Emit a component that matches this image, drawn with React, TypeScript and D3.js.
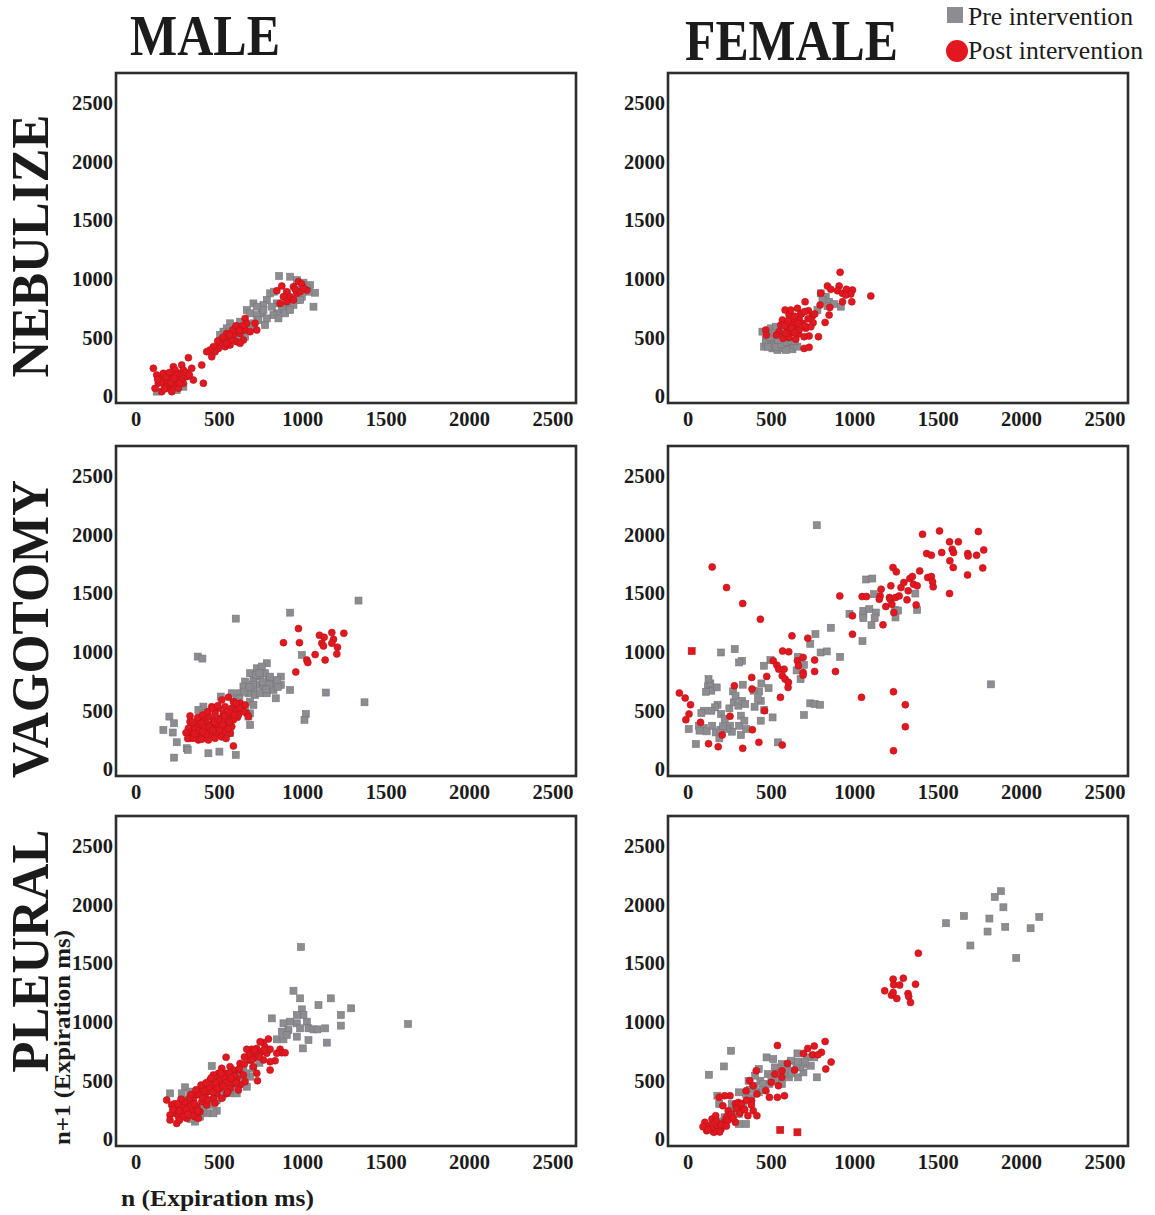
import React from "react";
import * as d3 from "d3";

// ---------- data (ms, [n, n+1]) ----------
const ticks = [0, 500, 1000, 1500, 2000, 2500];
const colTitles = ["MALE", "FEMALE"];
const rowTitles = ["NEBULIZE", "VAGOTOMY", "PLEURAL"];
const seriesNames = ["Pre intervention", "Post intervention"];

const maleNebulizePre: [number, number][] = [
  [858,1024],[924,1018],[964,989],[1004,967],[1044,947],[1074,881],[1064,762],[1034,890],[994,847],[964,819],
  [944,776],[904,762],[874,733],[844,705],[824,691],[804,876],[828,890],[784,819],[764,776],[754,705],
  [724,691],[704,790],[664,733],[734,648],[704,620],[684,591],[654,620],[624,634],[604,591],[564,620],
  [544,577],[524,549],[504,520],[514,477],[534,506],[564,549],[584,563],[604,520],[644,549],[674,563],
  [774,605],[784,662],[854,662],[894,705],[924,733],[964,904],[1024,918],[984,819],[904,876],[844,790],
  [814,762],[684,705],[724,762],[764,733],[614,492],[654,506],[504,435],[164,165],[244,51],[284,79],
  [124,37],[204,136]
];
const maleNebulizePost: [number, number][] = [
  [874,938],[904,890],[944,933],[974,975],[994,955],[964,876],[924,847],[884,847],[864,790],[904,804],
  [844,898],[1024,904],[984,890],[944,819],[1004,918],[954,910],
  [654,662],[714,620],[724,563],[654,563],[624,534],[644,477],[604,463],[564,492],[544,534],[524,477],
  [584,520],[564,435],[534,421],[504,449],[494,406],[464,421],[474,378],[444,392],[424,378],[454,335],
  [614,591],[594,577],[664,620],[624,449],[574,477],[544,449],[684,549],
  [580,560],[600,600],[560,520],[520,500],[490,470],[640,600],[620,560],
  [104,236],[154,150],[224,250],[274,264],[314,327],[334,236],[394,264],[404,108],[344,136],[304,165],
  [264,193],[244,150],[204,179],[184,122],[134,108],[114,65],[154,37],[194,65],[224,93],[284,108],
  [254,65],[174,79],[124,179],[234,221],[284,221],[214,37],[164,193],
  [150,120],[180,160],[210,110],[240,180],[270,140],[300,200],[170,60],[200,200],[230,150],[260,110],
  [130,140],[320,180]
];

const femaleNebulizePre: [number, number][] = [
  [446,549],[466,477],[456,421],[486,449],[506,406],[536,392],[566,406],[596,421],[626,398],[516,477],
  [546,449],[496,577],[526,591],[576,463],[606,449],[476,506],[556,506],[636,435],[506,529],[586,392],
  [656,421],[796,876],[826,847],[846,804],[876,785],[916,762],[836,768],[776,733],[806,819],
  [470,450],[500,430],[530,420],[560,440],[590,460],[620,470],[490,500],[520,540],[560,560],[600,500],
  [640,470],[480,420],[540,480],[580,520]
];
const femaleNebulizePost: [number, number][] = [
  [912,1055],[836,938],[856,910],[906,938],[896,898],[926,876],[950,910],[986,904],[976,870],[946,861],
  [926,804],[982,804],[1096,853],[796,876],[792,776],[850,756],[846,691],[822,628],[702,804],[656,748],
  [722,728],[746,682],[750,625],[582,733],[606,691],[626,648],[646,591],[666,662],[686,620],[706,577],
  [736,591],[726,512],[782,506],[696,506],[662,529],[626,549],[596,577],[566,648],[556,605],[546,549],
  [570,492],[606,500],[646,483],[626,605],[676,705],[616,733],[696,406],[726,415],[466,563],[470,520],
  [530,520],[586,534],[666,563],
  [600,640],[640,680],[680,700],[720,660],[700,600],[660,620],[620,580],[580,600],[640,540],[700,720],
  [760,700]
];

const maleVagotomyPre: [number, number][] = [
  [1334,1437],[924,1334],[598,1283],[370,959],[398,942],[994,973],[1138,652],[1370,569],[1018,470],[1010,419],
  [924,674],[868,788],[868,717],[838,603],[784,902],[724,859],[774,817],[744,788],[684,817],[654,746],
  [704,760],[734,717],[794,760],[824,731],[764,703],[704,674],[674,646],[644,703],[620,646],[574,646],
  [604,603],[714,632],[684,575],[654,518],[684,475],[704,547],[674,447],[684,376],[508,618],[404,532],
  [374,504],[404,475],[200,447],[228,390],[164,333],[220,311],[244,228],[304,177],[310,163],[434,134],
  [500,148],[598,120],[228,97],[564,419],[594,475],[544,362],[744,646],[784,646],[824,674],[804,788],
  [754,874],[844,760],[624,532],[564,305],[524,276],
  [650,660],[700,720],[760,740],[800,720],[720,800],[680,700],[740,820],[620,600],[590,560],[780,680],
  [850,700]
];
const maleVagotomyPost: [number, number][] = [
  [974,1198],[884,1078],[980,1078],[1100,1141],[1128,1124],[1174,1164],[1246,1158],[1184,1107],[1114,1073],[1124,1050],
  [1174,1073],[1208,1039],[1204,982],[1074,976],[1024,930],[1030,908],[1134,930],[958,828],
  [554,612],[514,589],[584,575],[624,561],[454,532],[494,518],[534,532],[574,518],[604,504],[654,546],
  [664,475],[674,447],[608,441],[564,461],[524,475],[474,475],[434,447],[404,419],[324,453],[364,404],
  [340,362],[384,362],[424,390],[464,419],[504,433],[544,404],[584,419],[574,362],[534,362],[494,362],
  [454,347],[414,333],[374,319],[334,305],[324,262],[364,276],[404,291],[444,291],[484,305],[524,319],
  [564,305],[374,248],[344,262],[584,197],[474,262],[434,248],[394,254],[614,461],[644,490],[484,390],
  [444,376],[354,339],[394,390],[514,276],[554,347],[314,347],[324,404],
  [350,300],[380,330],[410,350],[440,360],[470,400],[500,420],[530,450],[560,480],[590,460],[620,520],
  [340,400],[370,440],[400,460],[430,490],[460,520],[490,540],[300,310],[310,260],[420,300],[500,330],
  [540,260],[400,320],[460,330],[520,380],[560,400],[600,560]
];

const femaleVagotomyPre: [number, number][] = [
  [772,2080],[1816,722],[1068,1617],[1105,1625],[1115,1492],[968,1324],[1051,1315],[1051,1287],[1051,1349],[1087,1364],
  [1126,1335],[1119,1287],[1100,1227],[1046,1091],[1242,1355],[1244,1293],[1259,1352],[1363,1497],[1374,1358],[856,1205],
  [764,1151],[733,1068],[795,994],[832,1003],[912,957],[658,957],[695,889],[675,767],[651,841],[494,929],
  [455,881],[483,690],[440,730],[427,662],[436,582],[399,531],[457,503],[507,440],[436,412],[328,719],
  [280,1023],[324,923],[306,909],[198,994],[733,560],[759,554],[792,548],[695,460],[119,705],[140,668],
  [134,730],[108,659],[177,548],[162,526],[140,497],[95,497],[65,369],[95,349],[69,327],[112,321],
  [145,369],[166,312],[198,469],[220,426],[248,517],[252,369],[263,318],[270,662],[274,568],[285,625],
  [302,540],[317,455],[324,582],[306,369],[317,290],[338,412],[349,341],[343,554],[231,341],[194,335],
  [188,261],[47,213],[4,341],[539,227],[393,668],[419,597],[172,696],[123,767],[80,477],[209,364]
];
const femaleVagotomyPost: [number, number][] = [
  [-52,648],[-17,605],[15,548],[6,469],[-13,420],[75,398],[145,1724],[231,1548],[328,1412],[434,1278],
  [278,710],[252,449],[205,290],[123,216],[181,190],[328,176],[386,335],[384,682],[382,781],[425,227],
  [459,497],[472,790],[511,923],[533,886],[544,852],[554,611],[567,1006],[604,1000],[576,852],[565,795],
  [582,767],[600,696],[602,739],[623,1136],[565,205],[656,923],[662,881],[690,952],[690,824],[690,801],
  [718,1116],[759,929],[759,832],[884,832],[910,1477],[986,1307],[986,1150],[1040,611],[1044,1471],[1070,1471],
  [1152,1477],[1158,1534],[1147,1449],[1169,1230],[1186,1386],[1208,1463],[1216,1563],[1212,1449],[1222,1406],[1229,1719],
  [1234,1335],[1244,1463],[1249,1682],[1266,1477],[1277,1548],[1294,1591],[1313,1443],[1320,1520],[1330,1625],[1345,1642],
  [1352,1577],[1374,1563],[1368,1400],[1389,1690],[1406,2003],[1431,1838],[1437,1634],[1459,1824],[1459,1642],[1470,1554],
  [1466,1597],[1508,2031],[1521,1847],[1568,1938],[1570,1776],[1568,1497],[1584,1875],[1590,1719],[1592,1847],[1621,1938],
  [1677,1838],[1680,1818],[1676,1656],[1730,1824],[1741,2026],[1767,1716],[1773,1869],[1232,659],[1303,548],[1303,361],
  [1232,156]
];
const femaleVagotomyPostSquares: [number, number][] = [[22,1006]];

const malePleuralPre: [number, number][] = [
  [944,1265],[984,1200],[1168,1200],[1094,1143],[814,1029],[994,1106],[1004,1058],[964,1058],[924,1001],[884,987],
  [914,930],[874,916],[964,987],[984,944],[1024,1001],[1034,944],[1064,935],[1088,935],[1134,944],[964,873],
  [1034,844],[1000,773],[1144,822],[1228,1058],[1228,967],[1290,1115],[844,850],[884,850],[904,887],[454,623],
  [294,441],[204,389],[354,148],[484,241],[484,332],[564,389],[664,446],[684,532],[614,546],[574,475],
  [534,418],[514,361],[444,332],[404,276],[354,247],[304,332],[274,389],[644,588],[684,674],[724,702],
  [604,389],[464,219],[424,219],[384,190],[324,404],[254,247],[544,503],[594,446],[1631,981],[989,1638],
  [640,520],[700,600],[600,470],[560,420],[520,380],[480,330],[440,290],[400,240],[360,200],[330,170],
  [740,650],[660,560]
];
const malePleuralPost: [number, number][] = [
  [794,853],[764,822],[744,830],[774,782],[724,773],[694,765],[664,765],[754,745],[784,731],[804,765],
  [864,765],[874,736],[894,736],[724,716],[694,716],[684,674],[764,674],[834,668],[804,588],[704,617],
  [724,560],[728,497],[540,697],[624,645],[564,617],[584,588],[614,588],[644,546],[514,603],[534,560],
  [494,560],[464,546],[484,517],[554,517],[604,517],[654,489],[624,461],[584,475],[514,489],[444,503],
  [414,461],[464,446],[504,432],[564,432],[614,418],[544,389],[484,389],[434,404],[384,418],[364,375],
  [414,361],[464,347],[514,347],[394,318],[344,332],[314,304],[364,276],[424,290],[474,304],[284,276],
  [244,261],[184,332],[214,290],[334,233],[284,219],[234,219],[204,204],[254,190],[304,176],[354,190],
  [204,162],[244,133],[374,176],[324,276],[384,233],[804,660],[844,731],
  [230,300],[260,240],[290,320],[320,350],[350,300],[380,380],[410,410],[440,440],[470,470],[500,500],
  [530,520],[560,560],[590,540],[620,600],[650,640],[330,380],[360,420],[390,460],[420,480],[450,520],
  [480,480],[510,560],[540,480],[570,520],[600,480],[270,340],[300,250],[250,300],[220,250],[280,190],
  [400,350],[430,330],[460,400],[490,430],[520,450],[550,400],[340,200],[370,240],[260,160],[310,210],
  [680,720],[710,760],[740,700],[770,760],[650,700],[700,680]
];

const femalePleuralPre: [number, number][] = [
  [1876,2114],[1839,2065],[1891,1977],[1547,1841],[1654,1903],[1807,1881],[1902,1810],[2106,1895],[2054,1798],[1796,1770],
  [1693,1651],[1968,1545],[125,548],[258,753],[215,619],[772,526],[656,730],[714,696],[736,625],[692,639],
  [617,668],[563,639],[520,611],[478,554],[434,497],[391,440],[424,398],[471,696],[542,554],[606,526],
  [660,526],[692,568],[424,597],[363,497],[305,398],[348,384],[262,298],[305,128],[348,128],[262,241],
  [176,369],[187,298],[155,71],[219,185],[531,497],[488,469],[402,540],[596,597],[511,682],[671,611],
  [757,696],[563,469],[305,213],
  [400,450],[450,470],[500,520],[550,560],[600,580],[650,620],[700,660],[560,600],[450,420],[380,350],
  [330,300],[280,240],[240,190],[200,150],[370,420],[620,560],[660,660]
];
const femalePleuralPost: [number, number][] = [
  [1381,1585],[1179,1264],[1230,1364],[1291,1372],[1364,1321],[1233,1315],[1269,1313],[1220,1227],[1252,1199],[1319,1241],
  [1323,1216],[1334,1165],[1230,1250],[822,832],[858,656],[826,597],[757,793],[800,739],[718,773],[746,719],
  [692,730],[779,719],[536,798],[596,645],[639,588],[563,582],[520,554],[499,483],[563,526],[542,455],
  [488,355],[536,355],[578,369],[467,412],[409,582],[370,497],[391,455],[348,412],[391,241],[359,199],
  [316,241],[284,298],[252,369],[219,369],[187,355],[209,284],[241,241],[301,312],[327,256],[262,185],
  [215,142],[176,114],[144,170],[101,142],[112,71],[155,57],[198,85],[133,114],[90,105],[230,185],
  [284,142],[381,327],[413,199],[166,199],[413,384],
  [140,90],[170,150],[200,120],[240,160],[260,210],[290,260],[320,300],[350,330],[120,80],[190,60],
  [230,110],[270,180],[310,220],[340,250],[380,290]
];
const femalePleuralPostSquares: [number, number][] = [[553,77],[656,57]];

// ---------- layout ----------
const W = 1155, H = 1215;
const PW = 460, PH = 330;
const colX = [116, 668];
const rowY = [73, 446, 816];
const GRAY = "#8d8d91";
const GRAY_STROKE = "#77777b";
const RED = "#e3171f";
const RED_STROKE = "#b3141a";
const INK = "#1b1b1b";
const FONT = "'Liberation Serif', 'Times New Roman', serif";

const panels = [
  { c: 0, r: 0, pre: maleNebulizePre, post: maleNebulizePost, sq: [] as [number, number][] },
  { c: 1, r: 0, pre: femaleNebulizePre, post: femaleNebulizePost, sq: [] as [number, number][] },
  { c: 0, r: 1, pre: maleVagotomyPre, post: maleVagotomyPost, sq: [] as [number, number][] },
  { c: 1, r: 1, pre: femaleVagotomyPre, post: femaleVagotomyPost, sq: femaleVagotomyPostSquares },
  { c: 0, r: 2, pre: malePleuralPre, post: malePleuralPost, sq: [] as [number, number][] },
  { c: 1, r: 2, pre: femalePleuralPre, post: femalePleuralPost, sq: femalePleuralPostSquares },
];

const x = d3.scaleLinear().domain([-120, 2638]).range([0, PW]);
const y = d3.scaleLinear().domain([-60, 2756]).range([PH, 0]);

function Panel({ p }: { p: typeof panels[number] }) {
  const tx = colX[p.c];
  const ty = rowY[p.r];
  const s = 7;
  return (
    <g transform={`translate(${tx},${ty})`}>
      {p.pre.map((d, i) => (
        <rect key={"g" + i} x={x(d[0]) - s / 2} y={y(d[1]) - s / 2} width={s} height={s}
          fill={GRAY} stroke={GRAY_STROKE} strokeWidth={0.6} />
      ))}
      {p.post.map((d, i) => (
        <circle key={"r" + i} cx={x(d[0])} cy={y(d[1])} r={3.5} fill={RED} stroke={RED_STROKE} strokeWidth={0.6} />
      ))}
      {p.sq.map((d, i) => (
        <rect key={"s" + i} x={x(d[0]) - 3.5} y={y(d[1]) - 3.5} width={7} height={7} fill={RED} stroke={RED_STROKE} strokeWidth={0.6} />
      ))}
      <rect x={0} y={0} width={PW} height={PH} fill="none" stroke="#2d2d2d" strokeWidth={2.6} />
      {ticks.map((t) => (
        <text key={"x" + t} x={x(t)} y={PH + 23} textAnchor="middle" fontFamily={FONT}
          fontWeight="bold" fontSize={20.5} fill={INK}>{t}</text>
      ))}
      {ticks.map((t) => (
        <text key={"y" + t} x={-3} y={y(t)} dy="0.35em" textAnchor="end" fontFamily={FONT}
          fontWeight="bold" fontSize={20.5} fill={INK}>{t}</text>
      ))}
    </g>
  );
}

export default function App() {
  const rowCenters = [246, 629, 951];
  const rowLens = [263, 298, 243];
  return (
    <svg width={W} height={H} style={{ position: "absolute", left: 0, top: 0, background: "#fff" }}>
      <rect x={0} y={0} width={W} height={H} fill="#fff" />
      {/* column titles */}
      <text x={130} y={55} fontFamily={FONT} fontWeight="bold" fontSize={56} fill={INK}
        textLength={150} lengthAdjust="spacingAndGlyphs">{colTitles[0]}</text>
      <text x={685} y={60} fontFamily={FONT} fontWeight="bold" fontSize={56} fill={INK}
        textLength={213} lengthAdjust="spacingAndGlyphs">{colTitles[1]}</text>
      {/* row titles */}
      {rowTitles.map((t, i) => (
        <text key={t} transform={`translate(48,${rowCenters[i]}) rotate(-90)`} textAnchor="middle"
          fontFamily={FONT} fontWeight="bold" fontSize={53} fill={INK}
          textLength={rowLens[i]} lengthAdjust="spacingAndGlyphs">{t}</text>
      ))}
      {panels.map((p, i) => <Panel key={i} p={p} />)}
      {/* axis titles */}
      <text transform="translate(70,1145) rotate(-90)" fontFamily={FONT} fontWeight="bold" fontSize={24}
        fill={INK} textLength={215} lengthAdjust="spacingAndGlyphs">n+1 (Expiration ms)</text>
      <text x={121} y={1206} fontFamily={FONT} fontWeight="bold" fontSize={24} fill={INK}
        textLength={193} lengthAdjust="spacingAndGlyphs">n (Expiration ms)</text>
      {/* legend */}
      <rect x={947} y={7} width={16} height={16} fill={GRAY} />
      <text x={968} y={25} fontFamily={FONT} fontSize={24.5} fill={INK}
        textLength={165} lengthAdjust="spacingAndGlyphs">{seriesNames[0]}</text>
      <circle cx={957} cy={51} r={11} fill={RED} />
      <text x={968} y={59} fontFamily={FONT} fontSize={24.5} fill={INK}
        textLength={175} lengthAdjust="spacingAndGlyphs">{seriesNames[1]}</text>
    </svg>
  );
}
